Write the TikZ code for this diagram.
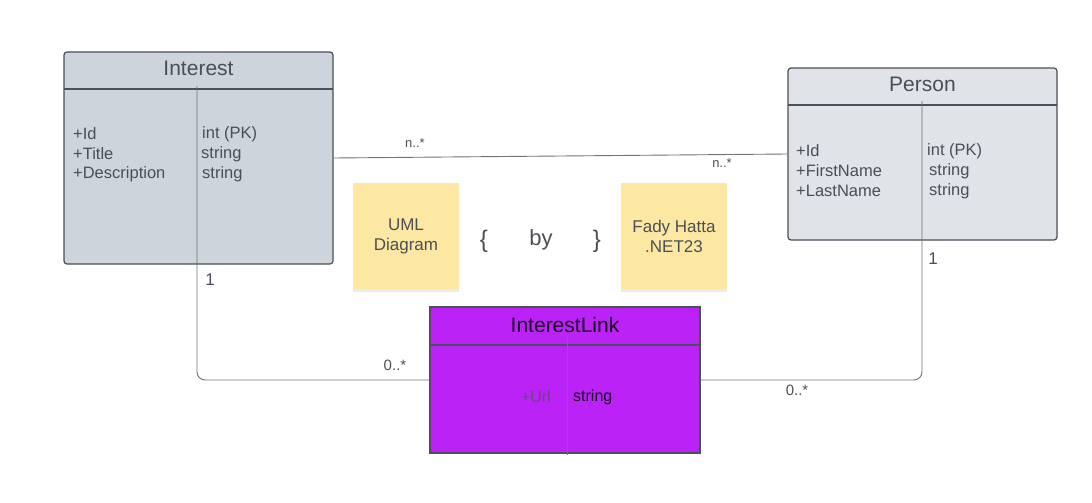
\documentclass[tikz,border=0pt]{standalone}
\usepackage{fontspec}
\setmainfont{Liberation Sans}
\usetikzlibrary{shadows}
\definecolor{bordc}{HTML}{4B4F57}
\definecolor{txtc}{HTML}{4A4F57}
\definecolor{intfill}{HTML}{CED4DC}
\definecolor{perfill}{HTML}{E0E3E8}
\definecolor{linkfill}{HTML}{BB22F5}
\definecolor{stickyc}{HTML}{FCE8A3}
\definecolor{linec}{HTML}{6E7279}
\tikzset{
  classbox/.style={draw=bordc, line width=1.2pt, rounded corners=3pt, inner sep=0pt},
  title/.style={font=\fontsize{21}{23}\selectfont, text=txtc},
  attr/.style={font=\fontsize{16.5}{18}\selectfont, text=txtc, anchor=west, inner sep=0pt},
  mult/.style={font=\fontsize{15}{17}\selectfont, text=txtc, inner sep=0pt},
  smallmult/.style={mult, font=\fontsize{13}{15}\selectfont},
  onemult/.style={mult, font=\fontsize{17}{19}\selectfont},
  sticky/.style={fill=stickyc, minimum width=106pt, minimum height=106pt, inner sep=0pt,
    align=center, font=\fontsize{17}{20}\selectfont, text=txtc,
    drop shadow={shadow xshift=0pt, shadow yshift=-3pt, opacity=0.15}},
  conn/.style={draw=linec, line width=0.9pt},
}
\begin{document}
\begin{tikzpicture}[x=1pt, y=-1pt]
\useasboundingbox (0,0) rectangle (1092,503);
% Interest
\node[classbox, fill=intfill, minimum width=269pt, minimum height=212pt] (Interest) at (198.5,158) {};
\draw[bordc, line width=1.2pt] (64,89) -- (333,89);
\node[title] (intT) at (198.5,68) {Interest};
\node[attr] (i1) at (73,134) {+Id};
\node[attr] (i2) at (73,154) {+Title};
\node[attr] (i3) at (73,174) {+Description};
\node[attr] (i4) at (202,134) {int (PK)};
\node[attr] (i5) at (201,154) {string};
\node[attr] (i6) at (202,174) {string};
% Person
\node[classbox, fill=perfill, minimum width=269pt, minimum height=172pt] (Person) at (922.5,154) {};
\draw[bordc, line width=1.2pt] (788,105) -- (1057,105);
\node[title] (perT) at (922.5,84) {Person};
\node[attr] (p1) at (796,151) {+Id};
\node[attr] (p2) at (796,171) {+FirstName};
\node[attr] (p3) at (796,191) {+LastName};
\node[attr] (p4) at (927,151) {int (PK)};
\node[attr] (p5) at (929,171) {string};
\node[attr] (p6) at (929,191) {string};
% InterestLink
\node[draw=bordc, line width=1.4pt, fill=linkfill, minimum width=270pt, minimum height=146pt, inner sep=0pt] (Link) at (565,380) {};
\draw[bordc, line width=1.2pt] (430,345) -- (700,345);
\draw[bordc!80, line width=0.7pt] (567,336) -- (567,455);
\node[font=\fontsize{21}{23}\selectfont, text=black!85!linkfill] (linkT) at (565,325) {InterestLink};
\node[font=\fontsize{16}{18}\selectfont, text=txtc!70!linkfill, anchor=east, inner sep=0pt] (l1) at (551,397) {+Url};
\node[attr, font=\fontsize{16}{18}\selectfont, text=black!85!linkfill] (l2) at (573,397) {string};
% dividers / connectors
\coordinate (iDivTop) at (197,86);
\coordinate (pDivTop) at (922,101);
\draw[conn, rounded corners=8pt] (iDivTop) -- (iDivTop |- Link.west) -- (Link.west);
\draw[conn, rounded corners=8pt] (Link.east) -- (pDivTop |- Link.east) -- (pDivTop);
\draw[conn] (Interest.east) -- (Person.west);
% multiplicities
\node[smallmult] (m1) at (415,143) {n..*};
\node[smallmult] (m2) at (722,163) {n..*};
\node[onemult] (m3) at (210,280) {1};
\node[mult] (m4) at (395,365) {0..*};
\node[onemult] (m5) at (933,259) {1};
\node[mult] (m6) at (797,390) {0..*};
% sticky notes
\node[sticky] (s1) at (406,236) {UML\\Diagram};
\node[sticky] (s2) at (674,236) {Fady Hatta\\.NET23};
\node[font=\fontsize{24}{26}\selectfont, text=txtc] (lb) at (484,241) {\{};
\node[font=\fontsize{22}{24}\selectfont, text=txtc] (by) at (541,240) {by};
\node[font=\fontsize{24}{26}\selectfont, text=txtc] (rb) at (597,241) {\}};
\end{tikzpicture}
\end{document}
